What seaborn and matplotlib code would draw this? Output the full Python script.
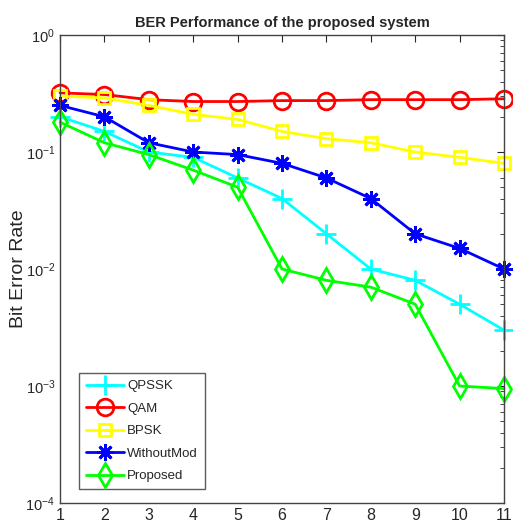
import numpy as np
import pandas as pd
import matplotlib
matplotlib.use("Agg")
import matplotlib.pyplot as plt
import seaborn as sns
from matplotlib.ticker import LogLocator, NullFormatter

# =========================
# DATA
# =========================

snr = [1, 2, 3, 4, 5, 6, 7, 8, 9, 10, 11]

qpssk = [0.2, 0.15, 0.1, 0.09, 0.06, 0.04, 0.02, 0.01, 0.008, 0.005, 0.003]
qam = [0.32, 0.31, 0.28, 0.27, 0.27, 0.275, 0.275, 0.28, 0.28, 0.28, 0.285]
bpsk = [0.30, 0.29, 0.25, 0.21, 0.19, 0.15, 0.13, 0.12, 0.10, 0.09, 0.08]
without_mod = [0.25, 0.20, 0.12, 0.10, 0.095, 0.08, 0.06, 0.04, 0.02, 0.015, 0.01]
proposed = [0.18, 0.12, 0.095, 0.07, 0.05, 0.01, 0.008, 0.007, 0.005, 0.001, 0.00095]

series_names = ["QPSSK", "QAM", "BPSK", "WithoutMod", "Proposed"]
series_vals = [qpssk, qam, bpsk, without_mod, proposed]

df = pd.DataFrame({
    "x": snr * len(series_names),
    "BER": sum(series_vals, []),
    "Scheme": [n for n in series_names for _ in snr],
})

sns.set_style("white")
plt.rcParams["font.family"] = ["Liberation Sans", "DejaVu Sans"]

colors = {"QPSSK": "#00ffff", "QAM": "#ff0000", "BPSK": "#ffff00",
          "WithoutMod": "#0000ff", "Proposed": "#00ff00"}
# MATLAB-style asterisk instead of the matplotlib star
markers = {"QPSSK": "+", "QAM": "o", "BPSK": "s", "WithoutMod": (8, 2, 0), "Proposed": "d"}
msize = {"QPSSK": 14, "QAM": 12, "BPSK": 9, "WithoutMod": 12, "Proposed": 12}

fig = plt.figure(figsize=(5.13, 5.29), dpi=100)
ax = fig.add_axes([60 / 513, 26 / 529, 444 / 513, 468 / 529])

for name in series_names:
    sub = df[df["Scheme"] == name]
    sns.lineplot(data=sub, x="x", y="BER", ax=ax, color=colors[name],
                 marker=markers[name], markersize=msize[name],
                 markerfacecolor="none", markeredgecolor=colors[name],
                 markeredgewidth=2, linewidth=2, label=name, clip_on=False)

ax.set_yscale("log")
ax.set_ylim(1e-4, 1)
ax.set_xlim(1, 11)
ax.set_xticks(snr)
ax.yaxis.set_major_locator(LogLocator(base=10, numticks=10))
ax.yaxis.set_minor_locator(LogLocator(base=10, subs=np.arange(2, 10), numticks=20))
ax.yaxis.set_minor_formatter(NullFormatter())

ax.tick_params(which="both", direction="in", top=True, right=True, labelsize=10.5)
ax.tick_params(axis="x", labelsize=11.5)
ax.tick_params(which="major", length=5)
ax.tick_params(which="minor", length=3)
for sp in ax.spines.values():
    sp.set_color("#444444")
    sp.set_linewidth(1)

ax.set_xlabel("")
ax.set_ylabel("Bit Error Rate", fontsize=14)
ax.yaxis.set_label_coords(-0.074, 0.5)
ax.set_title("BER Performance of the proposed system", fontsize=10.5, fontweight="bold", pad=6)

leg = ax.legend(loc="lower left", bbox_to_anchor=(0.043, 0.03), frameon=True,
                fancybox=False, fontsize=9.5, handlelength=2.9, borderpad=0.5,
                labelspacing=0.78, handletextpad=0.25, borderaxespad=0)
leg.get_frame().set_edgecolor("#333333")
leg.get_frame().set_linewidth(1)

fig.savefig("out.png", dpi=100)
